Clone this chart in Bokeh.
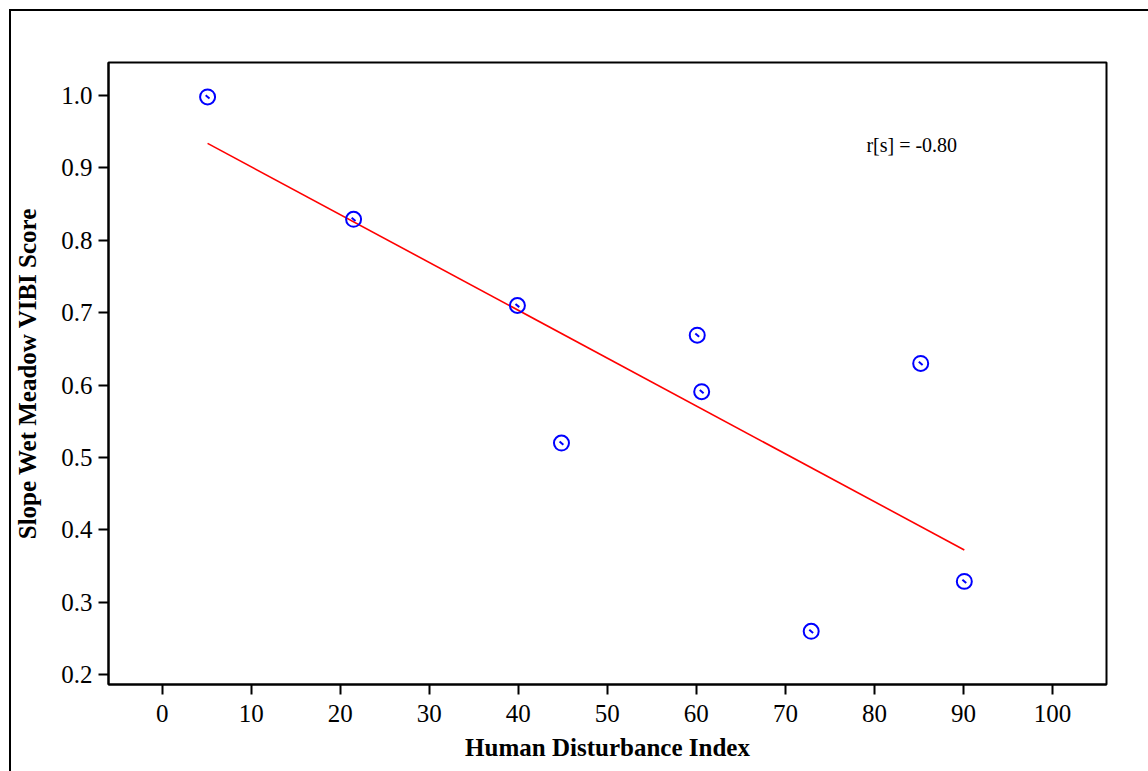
import numpy as np
from bokeh.plotting import figure
from bokeh.models import FixedTicker, PrintfTickFormatter
from bokeh.core.properties import value
from bokeh.embed import file_html
from bokeh.resources import INLINE

# Data
hdi = [5.1, 21.5, 39.9, 44.85, 60.1, 60.6, 72.9, 85.2, 90.1]
vibi = [0.998, 0.829, 0.710, 0.520, 0.669, 0.591, 0.260, 0.630, 0.329]
x_ticks = [0, 10, 20, 30, 40, 50, 60, 70, 80, 90, 100]
y_ticks = [0.2, 0.3, 0.4, 0.5, 0.6, 0.7, 0.8, 0.9, 1.0]
annot_text = ["r[s] = -0.80"]
annot_x = [79.1]
annot_y = [0.931]

# least-squares fit line over data range
slope, intercept = np.polyfit(hdi, vibi, 1)
fit_x = [min(hdi), max(hdi)]
fit_y = [slope * v + intercept for v in fit_x]

FONT = "Liberation Serif"

p = figure(frame_width=998, frame_height=622, output_backend="svg", toolbar_location=None,
           x_range=(-6.03, 106.07), y_range=(0.1866, 1.0456),
           min_border_left=96, min_border_right=45, min_border_top=51, min_border_bottom=87,
           styles={"margin-left": "9px", "margin-top": "9px",
                   "border-left": "2px solid black", "border-top": "2px solid black"})

p.xgrid.visible = False
p.ygrid.visible = False
p.outline_line_color = "black"
p.outline_line_width = 2
p.background_fill_color = "white"
p.border_fill_color = "white"

p.xaxis.ticker = FixedTicker(ticks=x_ticks)
p.yaxis.ticker = FixedTicker(ticks=y_ticks)
p.yaxis.formatter = PrintfTickFormatter(format="%.1f")

for ax in (p.xaxis, p.yaxis):
    ax.axis_line_width = 2
    ax.axis_line_color = "black"
    ax.major_tick_line_width = 2
    ax.major_tick_line_color = "black"
    ax.major_tick_out = 10
    ax.major_tick_in = 0
    ax.minor_tick_line_color = None
    ax.major_label_text_font = FONT
    ax.major_label_text_font_size = "25px"
    ax.major_label_text_color = "black"
    ax.axis_label_text_font = FONT
    ax.axis_label_text_font_size = "25px"
    ax.axis_label_text_font_style = "bold"
    ax.axis_label_text_color = "black"

p.xaxis.axis_label = "Human Disturbance Index"
p.yaxis.axis_label = "Slope Wet Meadow VIBI Score"
p.xaxis.major_label_standoff = 10
p.xaxis.axis_label_standoff = 9
p.yaxis.major_label_standoff = 6
p.yaxis.axis_label_standoff = 17

p.line(fit_x, fit_y, line_color="red", line_width=1.6)
p.scatter(hdi, vibi, marker="circle", size=15, fill_color=None,
          line_color="blue", line_width=2)
p.scatter(hdi, vibi, marker="dash", size=5, angle=-0.7,
          line_color="blue", line_width=2)

p.text(x=annot_x, y=annot_y, text=annot_text, text_font=value(FONT),
       text_font_size="20px", text_baseline="middle", text_align="left",
       text_color="black")

open("out.html", "w").write(file_html(p, INLINE))
